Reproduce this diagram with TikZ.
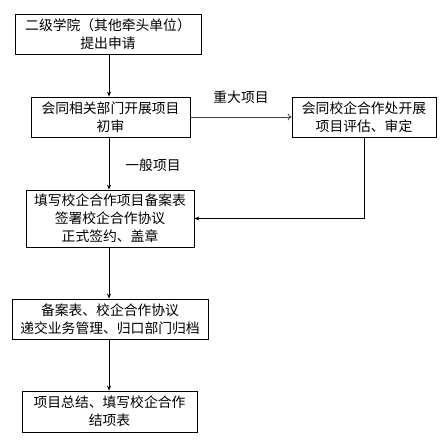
\documentclass[tikz,border=0pt]{standalone}
\usepackage{fontspec}
\newfontfamily\cjk{Noto Sans CJK SC}
\usetikzlibrary{positioning,arrows.meta}

\begin{document}
\begin{tikzpicture}[
    x=1pt, y=-1pt,
    stepbox/.style={
        rectangle,
        draw=black,
        line width=0.8pt,
        inner sep=0pt,
        align=center,
        font=\cjk\fontsize{13.8}{18}\selectfont
    },
    arrow/.style={-{Stealth[length=5pt,width=4pt]}, line width=0.8pt},
    openarrow/.style={-{To[length=4pt,width=7pt]}, line width=0.8pt, draw=black!75},
    lbl/.style={font=\cjk\fontsize{13.8}{18}\selectfont}
]
\useasboundingbox (0,0) rectangle (446,441);

\node[stepbox, minimum width=186pt, minimum height=40pt] (apply) at (108,34)
{二级学院（其他牵头单位）\\提出申请};

\node[stepbox, minimum width=159pt, minimum height=40pt] (first) at (110.5,117)
{会同相关部门开展项目\\初审};

\node[stepbox, minimum width=144pt, minimum height=40pt] (review) at (364,117)
{会同校企合作处开展\\项目评估、审定};

\node[stepbox, minimum width=168pt, minimum height=57pt] (sign) at (110,218.5)
{填写校企合作项目备案表\\签署校企合作协议\\正式签约、盖章};

\node[stepbox, minimum width=196pt, minimum height=40pt] (file) at (110,319)
{备案表、校企合作协议\\递交业务管理、归口部门归档};

\node[stepbox, minimum width=175pt, minimum height=41pt] (close) at (109.5,411.5)
{项目总结、填写校企合作\\结项表};

\node[lbl] (major) at (241,97) {重大项目};
\node[lbl] (normal) at (153,165) {一般项目};

\coordinate (trunk) at (109,0);
\draw[arrow] (trunk |- apply.south) -- (trunk |- first.north);
\draw[arrow] (trunk |- first.south) -- (trunk |- sign.north);
\draw[arrow] (trunk |- sign.south) -- (trunk |- file.north);
\draw[arrow] (trunk |- file.south) -- (trunk |- close.north);
\draw[openarrow] (first.east) -- (review.west);
\draw[arrow] (review.south) |- (sign.east);

\end{tikzpicture}
\end{document}
